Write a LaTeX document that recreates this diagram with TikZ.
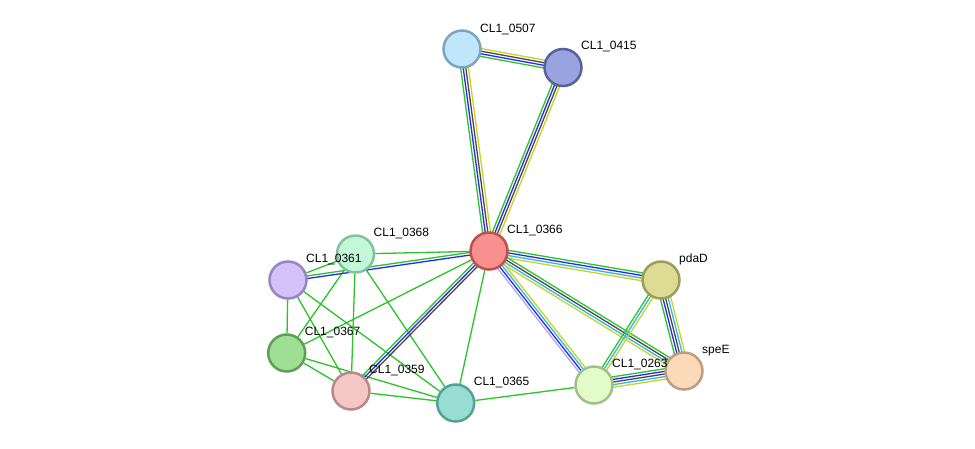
\documentclass[tikz,border=0pt]{standalone}
\usepackage{fontspec}
\setmainfont{Liberation Sans}
\usepackage{tikz}
\usetikzlibrary{calc,backgrounds}

\definecolor{lgreen}{RGB}{40,196,40}
\definecolor{lblue}{RGB}{40,40,242}
\definecolor{lblack}{RGB}{72,72,72}
\definecolor{lyellow}{RGB}{196,212,40}
\definecolor{lcyan}{RGB}{52,182,222}
\definecolor{llav}{RGB}{172,166,250}

\tikzset{
  prot/.style={circle, draw, line width=2.5pt, minimum size=37pt, inner sep=0pt},
  lbl/.style={anchor=base west, inner sep=0pt, font=\fontsize{12}{14}\selectfont},
  evid/.style={line width=1.3pt},
}

% one line per evidence channel, side by side
\newcommand{\strlink}[4]{%
  \foreach \c [count=\i] in {#4}{%
    \pgfmathsetmacro{\off}{(\i-(#3+1)/2)*2.6}%
    \draw[evid, color=\c] ($(#1)!\off pt!90:(#2)$) -- ($(#2)!\off pt!-90:(#1)$);
  }}

\begin{document}
\begin{tikzpicture}[x=1pt, y=-1pt]
		\useasboundingbox (0,0) rectangle (975,448);
		%				\draw [help lines] (0,0) grid (975,448);
		\node [prot, fill={rgb,255:red,192;green,230;blue,251}, draw={rgb,255:red,124;green,164;blue,190}] (n0507) at (462,49) {};
		\node [prot, fill={rgb,255:red,153;green,163;blue,224}, draw={rgb,255:red,84;green,98;blue,160}] (n0415) at (563,67.5) {};
		\node [prot, fill={rgb,255:red,248;green,144;blue,144}, draw={rgb,255:red,192;green,80;blue,79}] (n0366) at (489,251) {};
		\node [prot, fill={rgb,255:red,194;green,247;blue,216}, draw={rgb,255:red,133;green,192;blue,159}] (n0368) at (355.5,254) {};
		\node [prot, fill={rgb,255:red,213;green,194;blue,251}, draw={rgb,255:red,150;green,132;blue,196}] (n0361) at (288,280) {};
		\node [prot, fill={rgb,255:red,158;green,223;blue,148}, draw={rgb,255:red,95;green,158;blue,87}] (n0367) at (286.7,353) {};
		\node [prot, fill={rgb,255:red,245;green,198;blue,198}, draw={rgb,255:red,184;green,137;blue,137}] (n0359) at (351,391) {};
		\node [prot, fill={rgb,255:red,151;green,221;blue,211}, draw={rgb,255:red,86;green,161;blue,150}] (n0365) at (455.7,403) {};
		\node [prot, fill={rgb,255:red,226;green,251;blue,200}, draw={rgb,255:red,163;green,190;blue,135}] (n0263) at (594,385) {};
		\node [prot, fill={rgb,255:red,222;green,220;blue,148}, draw={rgb,255:red,158;green,156;blue,88}] (npdaD) at (661,280) {};
		\node [prot, fill={rgb,255:red,252;green,217;blue,185}, draw={rgb,255:red,190;green,158;blue,128}] (nspeE) at (684,371) {};

		\node [lbl] (l0507) at ($(n0507)+(18,-17)$) {CL1\_0507};
		\node [lbl] (l0415) at ($(n0415)+(18,-18)$) {CL1\_0415};
		\node [lbl] (l0366) at ($(n0366)+(18,-18)$) {CL1\_0366};
		\node [lbl] (l0368) at ($(n0368)+(18,-18)$) {CL1\_0368};
		\node [lbl] (l0361) at ($(n0361)+(18,-18)$) {CL1\_0361};
		\node [lbl] (l0367) at ($(n0367)+(18,-18)$) {CL1\_0367};
		\node [lbl] (l0359) at ($(n0359)+(18,-18)$) {CL1\_0359};
		\node [lbl] (l0365) at ($(n0365)+(18,-18)$) {CL1\_0365};
		\node [lbl] (l0263) at ($(n0263)+(18,-18)$) {CL1\_0263};
		\node [lbl] (lpdaD) at ($(npdaD)+(18,-18)$) {pdaD};
		\node [lbl] (lspeE) at ($(nspeE)+(18,-18)$) {speE};

		\begin{pgfonlayer}{background}
		% single green links
		\foreach \a/\b in {n0366/n0368, n0366/n0367, n0366/n0365, n0365/n0263,
		                   n0361/n0368, n0361/n0367, n0361/n0359, n0361/n0365,
		                   n0368/n0367, n0368/n0359, n0368/n0365,
		                   n0367/n0359, n0367/n0365, n0359/n0365}
			\draw [evid, lgreen] (\a) -- (\b);
		% multi-channel links
		\strlink{n0507}{n0415}{4}{lgreen,lblue,lblack,lyellow}
		\strlink{n0507}{n0366}{4}{lgreen,lblue,lblack,lyellow}
		\strlink{n0415}{n0366}{4}{lgreen,lblue,lblack,lyellow}
		\strlink{n0366}{n0361}{2}{lgreen,lblue}
		\strlink{n0366}{n0359}{3}{lgreen,lblue,lblack}
		\strlink{npdaD}{n0366}{4}{lgreen,lblue,lcyan,lyellow}
		\strlink{nspeE}{n0366}{4}{lgreen,lblack,lcyan,lyellow}
		\strlink{n0366}{n0263}{4}{llav,lblue,lcyan,lyellow}
		\strlink{npdaD}{n0263}{3}{lgreen,lcyan,lyellow}
		\strlink{npdaD}{nspeE}{5}{lgreen,lblue,lblack,lcyan,lyellow}
		\strlink{nspeE}{n0263}{5}{lgreen,lblue,lblack,lcyan,lyellow}
		\end{pgfonlayer}
	\end{tikzpicture}
\end{document}
